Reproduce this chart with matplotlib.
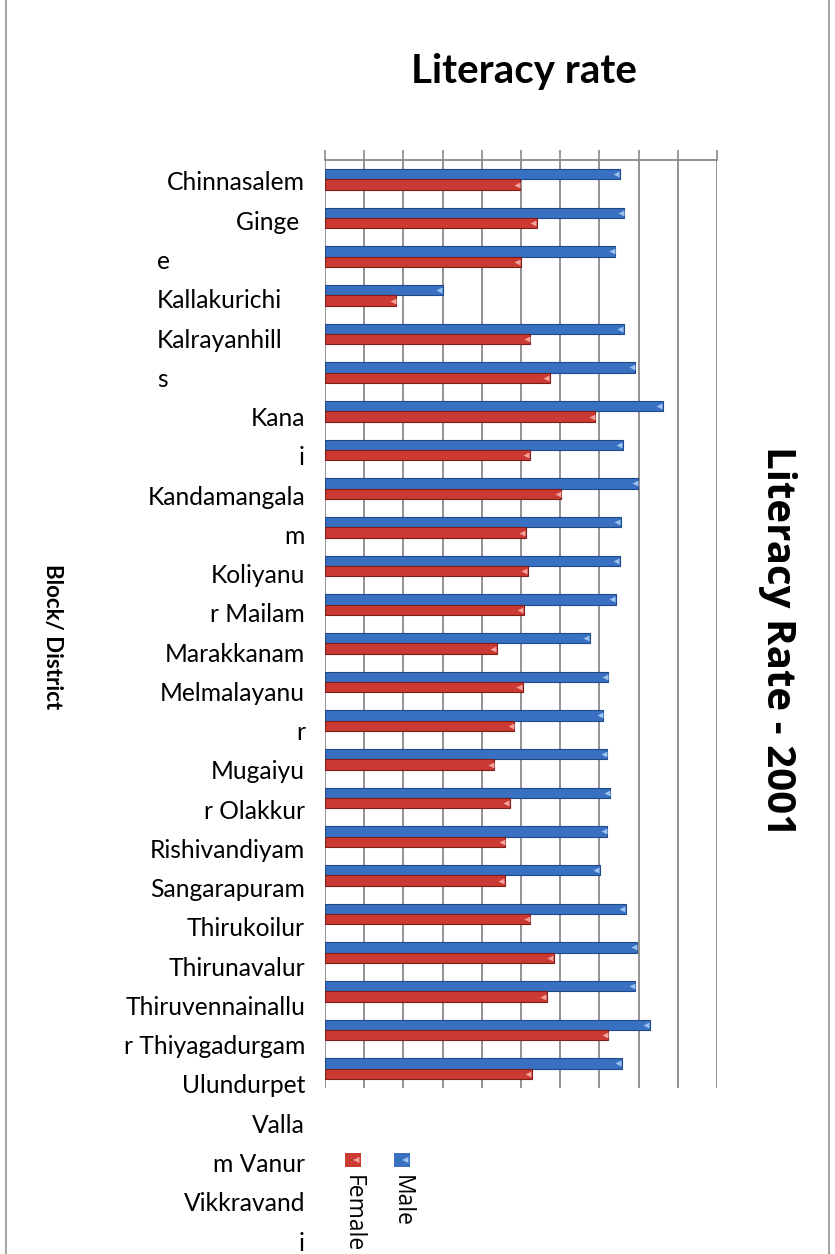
import numpy as np
import matplotlib
matplotlib.use("Agg")
import matplotlib.pyplot as plt
from matplotlib.patches import Rectangle

# ---- data: literacy rate (%) by block, 2001 ----
male = [75.2, 76.3, 74.0, 30.0, 76.2, 79.1, 86.1, 75.9, 79.9, 75.5, 75.2, 74.2,
        67.5, 72.3, 71.0, 72.0, 72.8, 72.0, 70.1, 76.7, 79.6, 79.1, 82.8, 75.7]
female = [49.8, 54.0, 50.0, 18.2, 52.4, 57.4, 68.9, 52.2, 60.3, 51.2, 51.7, 50.7,
          43.8, 50.5, 48.3, 43.2, 47.2, 46.0, 45.8, 52.4, 58.3, 56.6, 72.3, 52.7]
value_ticks = list(range(0, 101, 10))

# wrapped block-name text as it sits beside the bars (line, alignment)
label_lines = [
    ("Chinnasalem", "right"), ("Ginge ", "right"), ("e", "left"),
    ("Kallakurichi", "left"), ("Kalrayanhill", "left"), ("s", "left"),
    ("Kana", "right"), ("i", "right"), ("Kandamangala", "right"), ("m", "right"),
    ("Koliyanu", "right"), ("r Mailam", "right"), ("Marakkanam", "right"),
    ("Melmalayanu", "right"), ("r", "right"), ("Mugaiyu", "right"),
    ("r Olakkur", "right"), ("Rishivandiyam", "right"), ("Sangarapuram", "right"),
    ("Thirukoilur", "right"), ("Thirunavalur", "right"), ("Thiruvennainallu", "right"),
    ("r Thiyagadurgam", "right"), ("Ulundurpet", "right"), ("Valla", "right"),
    ("m Vanur", "right"), ("Vikkravand", "right"), ("i", "right"),
]

W, H = 835, 1254
BLUE, BLUE_EDGE, BLUE_TIP = "#3A70C2", "#1E4A8A", "#9CC3F0"
RED, RED_EDGE, RED_TIP = "#CB3A32", "#7E1C17", "#F4A39B"
GRID = "#8a8a8a"


def fx(px):
    return px / W


def fy(py):
    return 1 - py / H


fig = plt.figure(figsize=(W / 100, H / 100), dpi=100)

# chart frame
fig.patches.append(Rectangle((fx(6), fy(1300)), fx(823), 1300 / H + 0.01,
                             transform=fig.transFigure, fill=False,
                             edgecolor="#a6a6a6", lw=1.5))

ax = fig.add_axes([fx(325), fy(1088), fx(717 - 325), (1088 - 160) / H])
y = np.arange(len(male))
h = 0.27
ax.barh(y - h / 2, male, height=h, color=BLUE, edgecolor=BLUE_EDGE, lw=0.8,
        label="Male", zorder=3)
ax.barh(y + h / 2, female, height=h, color=RED, edgecolor=RED_EDGE, lw=0.8,
        label="Female", zorder=3)
# light tip at the end of each bar
ax.plot(np.array(male) - 0.9, y - h / 2, "<", ms=4, color=BLUE_TIP, mec="none", zorder=4)
ax.plot(np.array(female) - 0.9, y + h / 2, "<", ms=4, color=RED_TIP, mec="none", zorder=4)

ax.set_xlim(0, 100)
ax.set_ylim(len(male) - 0.5, -0.5)
ax.set_xticks(value_ticks)
ax.xaxis.tick_top()
ax.tick_params(axis="x", which="both", top=True, bottom=False, labeltop=False,
               labelbottom=False, length=7, width=1.2, color=GRID, direction="out")
ax.set_yticks([])
ax.grid(axis="x", color=GRID, lw=1.3, zorder=0)
for side in ("left", "right", "bottom"):
    ax.spines[side].set_visible(False)
ax.spines["top"].set_color(GRID)
ax.spines["top"].set_linewidth(1.3)

# block names
for i, (txt, ha) in enumerate(label_lines):
    x = 305 if ha == "right" else 157
    fig.text(fx(x), fy(183 + i * 39.26), txt, ha=ha, va="center",
             fontsize=17.7, family="Lato")

fig.text(fx(524), fy(72), "Literacy rate", ha="center", va="center",
         fontsize=29, fontweight="bold", family="Lato")
fig.text(fx(778), fy(641), "Literacy Rate - 2001", ha="center", va="center",
         rotation=-90, fontsize=29, fontweight="bold", family="Open Sans")
fig.text(fx(52), fy(637), "Block/ District", ha="center", va="center",
         rotation=-90, fontsize=16, fontweight="bold", family="Lato")

# legend (rotated, below the plot)
for xc, color, tip, name in [(402, BLUE, BLUE_TIP, "Male"), (353, RED, RED_TIP, "Female")]:
    fig.patches.append(Rectangle((fx(xc - 8), fy(1167)), fx(16), 14 / H,
                                 transform=fig.transFigure, facecolor=color,
                                 edgecolor="none"))
    fig.text(fx(xc + 3), fy(1160), "\u25c0", ha="center", va="center",
             fontsize=6, color=tip)
    fig.text(fx(xc), fy(1175), name, ha="center", va="top", rotation=-90,
             fontsize=16.5, family="Open Sans")

fig.savefig("out.png", dpi=100)
